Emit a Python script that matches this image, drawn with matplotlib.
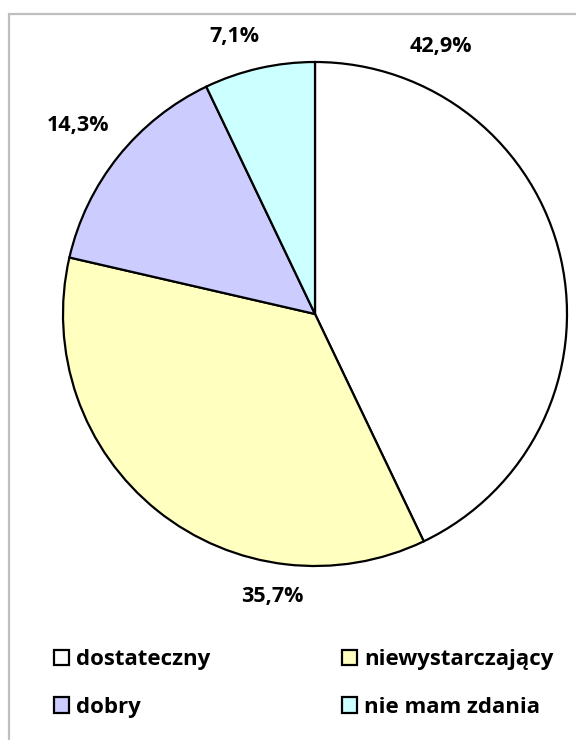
import matplotlib
matplotlib.use("Agg")
import matplotlib.pyplot as plt
from matplotlib.patches import Rectangle
import numpy as np

categories = ["dostateczny", "niewystarczający", "dobry", "nie mam zdania"]
values = [42.9, 35.7, 14.3, 7.1]
labels = ["42,9%", "35,7%", "14,3%", "7,1%"]
colors = ["#FFFFFF", "#FFFFC0", "#CCCCFF", "#CCFFFF"]

W, H = 576, 740
fig = plt.figure(figsize=(W / 100, H / 100), dpi=100)
plt.rcParams['font.family'] = ['Open Sans', 'DejaVu Sans']

# outer frame (gray), extends past right/bottom edges
fig.patches.append(Rectangle((9 / W, -0.1), 1.2, 1 - 13.5 / H + 0.1,
                             transform=fig.transFigure, fill=False,
                             edgecolor="#BFBFBF", lw=1.6))

cx, cy, r = 315, 314, 252
ax = fig.add_axes([(cx - r) / W, 1 - (cy + r) / H, 2 * r / W, 2 * r / H])
wedges, _ = ax.pie(values, colors=colors, startangle=90, counterclock=False,
                   radius=1.0, wedgeprops=dict(edgecolor="black", linewidth=1.6))
ax.set_xlim(-1, 1)
ax.set_ylim(-1, 1)
ax.set_aspect("equal")
ax.axis("off")

label_pos = [(0.50, 1.06), (-0.17, -1.12), (-0.94, 0.75), (-0.32, 1.10)]
for (x, y), t in zip(label_pos, labels):
    ax.text(x, y, t, ha="center", va="center", fontsize=15.5,
            fontweight="bold", clip_on=False)

order = [0, 2, 1, 3]
leg = fig.legend([wedges[i] for i in order], [categories[i] for i in order],
                 ncol=2, loc="upper left", bbox_to_anchor=(54 / W, 1 - 649 / H),
                 frameon=False, prop=dict(size=16, weight="bold"),
                 borderpad=0, borderaxespad=0,
                 handlelength=0.68, handleheight=0.68, handletextpad=0.3,
                 columnspacing=5.95, labelspacing=1.2)

fig.savefig("out.png", dpi=100)
